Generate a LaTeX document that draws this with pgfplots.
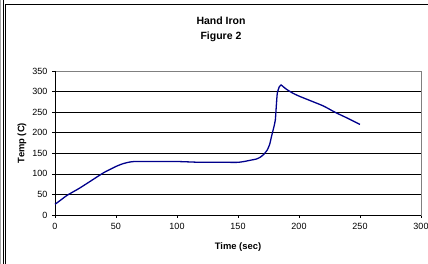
\documentclass[border=0pt]{standalone}
\usepackage{pgfplots}
\pgfplotsset{compat=1.18}
\usepackage{fontspec}
\setmainfont{Liberation Sans}
\begin{document}
\begin{tikzpicture}[x=1pt,y=1pt]
\path[use as bounding box] (0,0) rectangle (428,264);
% outer frame pieces
\draw[gray!70, line width=1.4pt] (0.7,0) -- (0.7,264);
\draw[black, line width=0.9pt] (3.8,0) -- (3.8,264);
\draw[black, line width=1.2pt] (5.5,0) -- (5.5,259.5) -- (428,259.5);
\begin{axis}[
  at={(55pt,49pt)}, anchor=south west,
  scale only axis, width=366pt, height=144pt,
  xmin=0, xmax=300, ymin=0, ymax=350,
  xtick={0,50,...,300}, ytick={0,50,...,350},
  axis line style={gray, line width=0.8pt},
  ymajorgrids, major grid style={black, line width=0.7pt},
  tick style={black, line width=0.7pt},
  major tick length=3pt,
  tick align=outside,
  xtick pos=bottom, ytick pos=left,
  ticklabel style={font=\fontsize{9}{10}\selectfont},
  xticklabel style={yshift=-2pt},
  yticklabel style={xshift=-1pt},
  /pgf/number format/assume math mode=true,
  clip=false,
]
\draw[black, line width=0.8pt] (axis cs:0,350) -- (axis cs:0,0) -- (axis cs:300,0);
\addplot[color={rgb,255:red,0;green,0;blue,140}, line width=1.3pt, smooth, tension=0.3, no marks] coordinates {
(0,26) (5,37) (10,48) (20,65) (30,84) (40,103) (50,118) (55,124) (60,128) (65,130)
(80,130) (100,130) (110,129) (120,128) (140,128) (150,128) (155,130) (160,133)
(165,136) (168,140) (171,147) (174,158) (176,172) (177,185) (178.4,202) (179.5,215)
(180.6,231) (181.4,265) (182.2,296) (183.9,312) (185.3,316) (187,312) (190,305)
(195,296) (200,289) (210,277) (220,265) (230,249) (240,235) (250,220)
};
\end{axis}
\node[font=\bfseries\fontsize{9.4}{10}\selectfont] at (238,17) {Time (sec)};
\node[font=\bfseries\fontsize{9.4}{10}\selectfont, rotate=90] at (22,121) {Temp (C)};
\node[font=\bfseries\fontsize{10.5}{12}\selectfont] at (221,243) {Hand Iron};
\node[font=\bfseries\fontsize{10.5}{12}\selectfont] at (221,227) {Figure 2};
\end{tikzpicture}
\end{document}
